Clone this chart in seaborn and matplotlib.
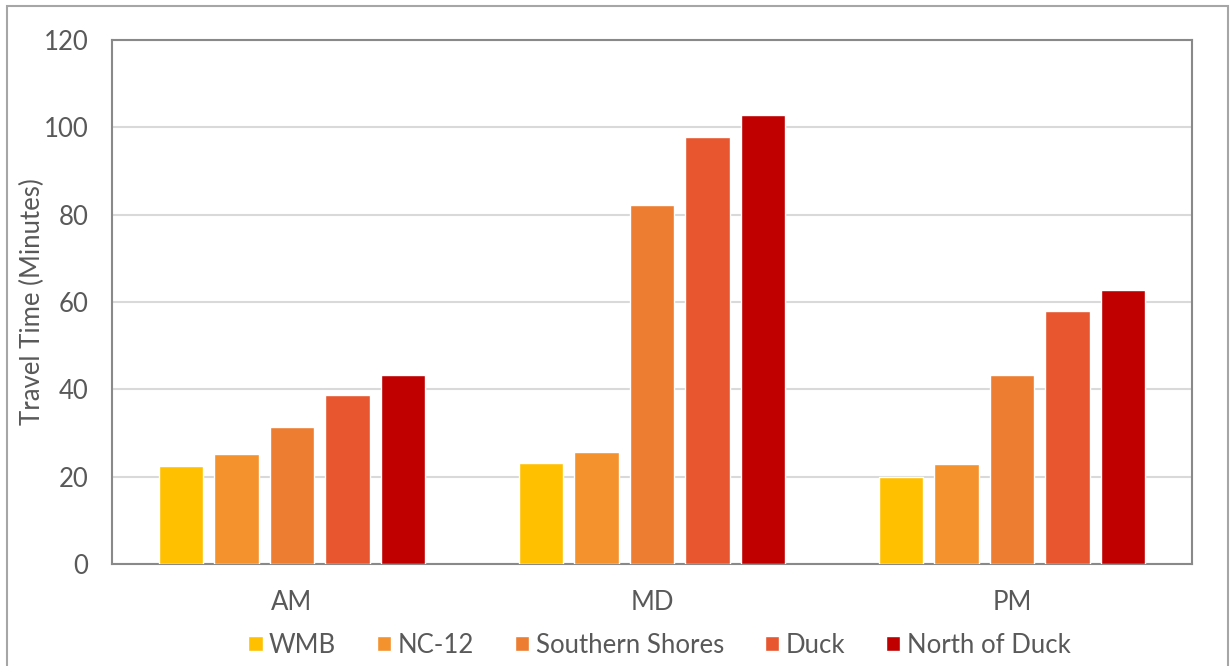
import matplotlib
matplotlib.use("Agg")
import matplotlib.pyplot as plt
import seaborn as sns
import pandas as pd
from matplotlib.patches import Rectangle

periods = ["AM", "MD", "PM"]
segments = ["WMB", "NC-12", "Southern Shores", "Duck", "North of Duck"]
wmb = [22.4, 23.1, 19.9]
nc12 = [25.2, 25.6, 22.9]
southern_shores = [31.4, 82.2, 43.3]
duck = [38.7, 97.8, 57.9]
north_of_duck = [43.3, 102.8, 62.7]
colors = ["#FFC000", "#F4922E", "#ED7D31", "#E8562F", "#C00000"]

series = [wmb, nc12, southern_shores, duck, north_of_duck]
rows = []
for seg, vals in zip(segments, series):
    for p, v in zip(periods, vals):
        rows.append({"Period": p, "Segment": seg, "Value": v})
df = pd.DataFrame(rows)

sns.set_theme(style="white")
plt.rcParams['font.family'] = ['Lato', 'DejaVu Sans']
text_color = "#595959"
fs = 18.5

fig = plt.figure(figsize=(12.3, 6.66), dpi=100)
ax = fig.add_axes([112/1230, 1-564/666, (1192-112)/1230, (564-40)/666])

sns.barplot(data=df, x="Period", y="Value", hue="Segment", order=periods,
            hue_order=segments, palette=colors, width=0.77, gap=0.2,
            saturation=1, ax=ax, legend=True, zorder=3)

ax.set_ylim(0, 120)
ax.set_yticks(range(0, 121, 20))
ax.yaxis.grid(True, color="#D9D9D9", linewidth=1.5, zorder=0)
ax.set_axisbelow(True)
for s in ax.spines.values():
    s.set_visible(True)
    s.set_color("#898989")
    s.set_linewidth(1.5)
ax.tick_params(axis="both", length=0, labelsize=fs, colors=text_color)
ax.tick_params(axis="y", pad=17)
ax.tick_params(axis="x", pad=19)
ax.set_xlabel("")
ax.set_ylabel("Travel Time (Minutes)", fontsize=fs, color=text_color)
ax.yaxis.set_label_coords(-0.062, 0.5)

ax.legend(loc="center", bbox_to_anchor=(0.507, -0.155), ncol=5, frameon=False,
          fontsize=fs, labelcolor=text_color, handlelength=0.55, handleheight=0.55,
          handletextpad=0.25, columnspacing=1.6, borderaxespad=0)

fig.patches.append(Rectangle((7/1230, -0.01), (1228-7)/1230, 1-6/666 + 0.01,
                             transform=fig.transFigure, fill=False,
                             edgecolor="#A6A6A6", linewidth=1.5))

fig.savefig("out.png", dpi=100, facecolor="white")
